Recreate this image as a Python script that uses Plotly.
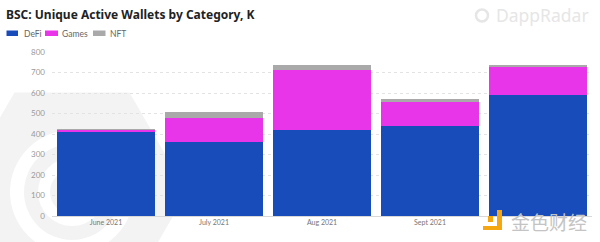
import plotly.graph_objects as go
import math

months = ["June 2021", "July 2021", "Aug 2021", "Sept 2021", "Oct 2021"]
shown_ticks = ["June 2021", "July 2021", "Aug 2021", "Sept 2021"]
defi = [409, 362, 420, 441, 590]
games = [11, 117, 291, 117, 137]
nft = [3, 28, 24, 13, 12]
series_names = ["DeFi", "Games", "NFT"]
series_colors = ["#184cba", "#e935ea", "#a9a9a9"]

W, H = 600, 242
L, R, T, B = 52, 8, 52, 26
PW, PH = W - L - R, H - T - B


def px(x):
    return (x - L) / PW


def py(y):
    return (H - B - y) / PH


fig = go.Figure()
for name, vals, col in zip(series_names, [defi, games, nft], series_colors):
    fig.add_bar(x=months, y=vals, name=name, marker=dict(color=col, line=dict(width=0)),
                showlegend=False)

shapes = []
# faint background logo (flat-top hexagon with rings)
cx, cy, Rh = 72, 192, 115
pts = [(cx + Rh * math.cos(math.radians(a)), cy + Rh * math.sin(math.radians(a))) for a in range(0, 360, 60)]
path = "M " + " L ".join(f"{px(x):.4f},{py(y):.4f}" for x, y in pts) + " Z"
shapes.append(dict(type="path", path=path, xref="paper", yref="paper", fillcolor="#f3f3f3",
                   line=dict(width=0), layer="below"))
for r, c in [(62, "white"), (48, "#f3f3f3"), (34, "white"), (22, "#f3f3f3")]:
    shapes.append(dict(type="circle", xref="paper", yref="paper", x0=px(cx - r), x1=px(cx + r),
                       y0=py(cy + r), y1=py(cy - r), fillcolor=c, line=dict(width=0), layer="below"))

# legend swatches
legend_x = [(6.5, 18), (45, 58), (93, 105.5)]
text_x = [22, 60, 107.5]
annotations = []
for (x0, x1), tx, name, col in zip(legend_x, text_x, series_names, series_colors):
    shapes.append(dict(type="rect", xref="paper", yref="paper", x0=px(x0), x1=px(x1),
                       y0=py(36), y1=py(30.5), fillcolor=col, line=dict(width=0)))
    annotations.append(dict(text=name, xref="paper", yref="paper", x=px(tx), y=py(33.5),
                            xanchor="left", yanchor="middle", showarrow=False,
                            font=dict(size=8.5, color="#666", family="Source Sans Pro, Lato, sans-serif")))

# DappRadar icon
shapes.append(dict(type="circle", xref="paper", yref="paper", x0=px(476), x1=px(488), y0=py(21.5), y1=py(9.5),
                   fillcolor="white", line=dict(width=2.5, color="#e6e6e6")))

# 金色财经 icon
shapes.append(dict(type="rect", xref="paper", yref="paper", x0=px(497), x1=px(502), y0=py(230), y1=py(210),
                   fillcolor="#f5a711", line=dict(width=0)))
shapes.append(dict(type="rect", xref="paper", yref="paper", x0=px(483), x1=px(502), y0=py(230), y1=py(226),
                   fillcolor="#f5a711", line=dict(width=0)))
shapes.append(dict(type="rect", xref="paper", yref="paper", x0=px(488), x1=px(493), y0=py(222), y1=py(216),
                   fillcolor="#f5a711", line=dict(width=0)))

annotations.append(dict(text="DappRadar", xref="paper", yref="paper", x=px(591), y=py(15.5),
                        xanchor="right", yanchor="middle", showarrow=False,
                        font=dict(size=17.5, color="#e6e6e6", family="Noto Sans")))
annotations.append(dict(text="金色财经", xref="paper", yref="paper", x=px(589), y=py(221),
                        xanchor="right", yanchor="middle", showarrow=False,
                        font=dict(size=19, color="#c4c4c4", family="Noto Sans CJK SC")))

fig.update_layout(
    width=W, height=H,
    barmode="stack", bargap=0.1,
    margin=dict(l=L, r=R, t=T, b=B),
    paper_bgcolor="white", plot_bgcolor="rgba(0,0,0,0)",
    font=dict(family="Source Sans Pro, Lato, sans-serif", size=8, color="#888"),
    title=dict(text="<b>BSC: Unique Active Wallets by Category, K</b>", x=0.01, xanchor="left",
               y=1 - 14.5 / H, yanchor="middle", font=dict(size=12, color="#222", family="Noto Sans")),
    shapes=shapes, annotations=annotations,
)
fig.update_yaxes(range=[0, 800], dtick=100, showgrid=True, gridcolor="#e3e3e3", griddash="dot",
                 zeroline=False, ticks="", tickfont=dict(size=8, color="#999"), ticklabelstandoff=6)
fig.update_xaxes(showline=True, linecolor="#d8d8d8", linewidth=1, ticks="",
                 tickvals=shown_ticks, tickfont=dict(size=7, color="#777"))
fig.write_html("out.html")
